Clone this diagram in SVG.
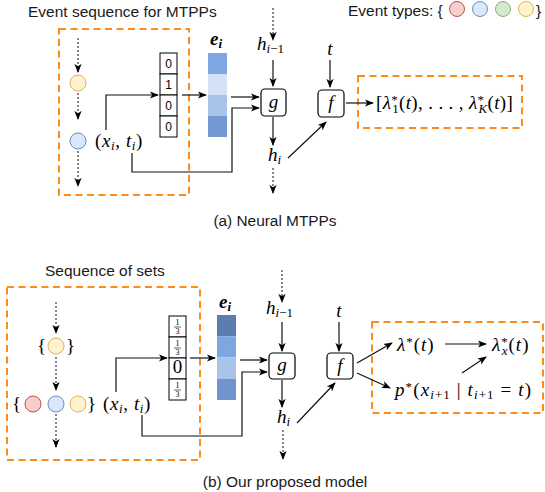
<svg xmlns="http://www.w3.org/2000/svg" width="545" height="492" viewBox="0 0 545 492">
<defs>
<style>
.sans{font-family:"Liberation Sans",Arial,sans-serif;fill:#1a1a1a}
.m{font-family:"Liberation Serif","DejaVu Serif",serif;fill:#000;font-size:19px}
.it{font-style:italic}
.sub{font-size:13px}
.bi{font-style:italic;font-weight:bold}
.grp{fill:none;stroke:#FF8C1A;stroke-width:2;stroke-dasharray:7 4.5}
.ln{fill:none;stroke:#111;stroke-width:1.2;marker-end:url(#ah)}
.dot{fill:none;stroke:#111;stroke-width:1;stroke-dasharray:2 2;marker-end:url(#ah)}
.box{fill:#fff;stroke:#000;stroke-width:1.2}
.cell{fill:#fff;stroke:#000;stroke-width:1}
.digit{font-family:"Liberation Sans",Arial,sans-serif;font-size:12px;fill:#000;text-anchor:middle}
.fr{font-family:"Liberation Serif",serif;font-size:8px;fill:#000;text-anchor:middle}
.red{fill:#F8CECC;stroke:#B85450}
.blue{fill:#DAE8FC;stroke:#6C8EBF}
.green{fill:#D5E8D4;stroke:#82B366}
.yellow{fill:#FFF2CC;stroke:#D6B656}
</style>
<marker id="ah" viewBox="0 0 10 10" refX="9" refY="5" markerWidth="9" markerHeight="9" markerUnits="userSpaceOnUse" orient="auto">
<path d="M0,1 L10,5 L0,9 L2.5,5 z" fill="#000"/>
</marker>
</defs>

<!-- titles / legend -->
<g id="legend">
<text class="sans" x="348" y="16" font-size="15.5">Event types: {</text>
<circle class="red" cx="457" cy="9" r="7.5"/>
<circle class="blue" cx="480" cy="9" r="7.5"/>
<circle class="green" cx="503" cy="9" r="7.5"/>
<circle class="yellow" cx="526" cy="9" r="7.5"/>
<text class="sans" x="536" y="16" font-size="15.5">}</text>
</g>
<text class="sans" x="28" y="17" font-size="15.5">Event sequence for MTPPs</text>
<text class="sans" x="275" y="226" font-size="15.4" text-anchor="middle">(a) Neural MTPPs</text>
<text class="sans" x="45" y="276" font-size="15.5">Sequence of sets</text>
<text class="sans" x="285" y="487" font-size="15.5" text-anchor="middle">(b) Our proposed model</text>

<!-- ============ (a) ============ -->
<g id="a-seq">
<rect class="grp" x="59" y="29" width="130" height="166"/>
<circle class="yellow" cx="78" cy="83" r="8"/>
<circle class="blue" cx="78" cy="141" r="8"/>
<text class="m" x="95" y="147" letter-spacing="0.6">(<tspan class="it">x</tspan><tspan class="sub it" dy="3">i</tspan><tspan dy="-3">, </tspan><tspan class="it">t</tspan><tspan class="sub it" dy="3">i</tspan><tspan dy="-3">)</tspan></text>
</g>
<g id="a-onehot">
<rect class="cell" x="160" y="53" width="17" height="21"/>
<rect class="cell" x="160" y="74" width="17" height="21"/>
<rect class="cell" x="160" y="95" width="17" height="21"/>
<rect class="cell" x="160" y="116" width="17" height="21"/>
<text class="digit" x="168.5" y="68">0</text>
<text class="digit" x="168.5" y="89">1</text>
<text class="digit" x="168.5" y="110">0</text>
<text class="digit" x="168.5" y="131">0</text>
</g>
<g id="a-embed">
<rect x="208" y="53" width="19" height="21" fill="#7EA6E0"/>
<rect x="208" y="74" width="19" height="21" fill="#D4E1F5"/>
<rect x="208" y="95" width="19" height="21" fill="#A9C4EB"/>
<rect x="208" y="116" width="19" height="21" fill="#7398D2"/>
<text class="m bi" x="210" y="45">e<tspan class="sub" dy="3">i</tspan></text>
</g>
<g id="a-g">
<rect class="box" x="261" y="89" width="25" height="27" rx="4"/>
<text class="m it" x="273.5" y="108" text-anchor="middle">g</text>
</g>
<g id="a-f">
<rect class="box" x="318" y="90" width="26" height="27" rx="4"/>
<text class="m it" x="331" y="109" text-anchor="middle">f</text>
</g>
<g id="a-h-prev">
<text class="m" x="257" y="50"><tspan class="it">h</tspan><tspan class="sub" dy="3"><tspan class="it">i</tspan>−1</tspan></text>
</g>
<g id="a-h">
<text class="m" x="268" y="161"><tspan class="it">h</tspan><tspan class="sub it" dy="3">i</tspan></text>
</g>
<g id="a-t">
<text class="m it" x="330" y="55" text-anchor="middle">t</text>
</g>
<g id="a-out">
<rect class="grp" x="358" y="76" width="164" height="52"/>
<text class="m" x="376" y="109" letter-spacing="0.35">[<tspan class="it">λ</tspan><tspan class="sub" dy="-5">*</tspan><tspan class="sub" dx="-6" dy="9">1</tspan><tspan dy="-4">(</tspan><tspan class="it">t</tspan>), . . . , <tspan class="it">λ</tspan><tspan class="sub" dy="-5">*</tspan><tspan class="sub it" dx="-6" dy="9">K</tspan><tspan dy="-4">(</tspan><tspan class="it">t</tspan>)]</text>
</g>

<!-- ============ (b) ============ -->
<g id="b-seq">
<rect class="grp" x="7" y="287" width="193" height="173"/>
<text class="m" x="37" y="352">{</text>
<circle class="yellow" cx="56" cy="346" r="8"/>
<text class="m" x="66" y="352">}</text>
<text class="m" x="12" y="410">{</text>
<circle class="red" cx="33" cy="404" r="8"/>
<circle class="blue" cx="56" cy="404" r="8"/>
<circle class="yellow" cx="78" cy="404" r="8"/>
<text class="m" x="87" y="410">}</text>
<text class="m" x="103" y="410" letter-spacing="0.6">(<tspan class="it">x</tspan><tspan class="sub it" dy="3">i</tspan><tspan dy="-3">, </tspan><tspan class="it">t</tspan><tspan class="sub it" dy="3">i</tspan><tspan dy="-3">)</tspan></text>
</g>
<g id="b-multihot">
<rect class="cell" x="169" y="316" width="17" height="21"/>
<rect class="cell" x="169" y="337" width="17" height="21"/>
<rect class="cell" x="169" y="358" width="17" height="21"/>
<rect class="cell" x="169" y="379" width="17" height="21"/>
<text class="fr" x="177.5" y="325">1</text><line x1="174" y1="327" x2="181" y2="327" stroke="#000" stroke-width="0.6"/><text class="fr" x="177.5" y="334">3</text>
<text class="fr" x="177.5" y="346">1</text><line x1="174" y1="348" x2="181" y2="348" stroke="#000" stroke-width="0.6"/><text class="fr" x="177.5" y="355">3</text>
<text class="m" x="177.5" y="373" text-anchor="middle" font-size="12">0</text>
<text class="fr" x="177.5" y="388">1</text><line x1="174" y1="390" x2="181" y2="390" stroke="#000" stroke-width="0.6"/><text class="fr" x="177.5" y="397">3</text>
</g>
<g id="b-embed">
<rect x="217" y="315" width="19" height="21.25" fill="#5D7DB0"/>
<rect x="217" y="336.25" width="19" height="21.25" fill="#7EA6E0"/>
<rect x="217" y="357.5" width="19" height="21.25" fill="#A9C4EB"/>
<rect x="217" y="378.75" width="19" height="21.25" fill="#6F94CE"/>
<text class="m bi" x="219" y="308">e<tspan class="sub" dy="3">i</tspan></text>
</g>
<g id="b-g">
<rect class="box" x="269" y="353" width="26" height="26" rx="4"/>
<text class="m it" x="282" y="371" text-anchor="middle">g</text>
</g>
<g id="b-f">
<rect class="box" x="327" y="353" width="26" height="26" rx="4"/>
<text class="m it" x="340" y="372" text-anchor="middle">f</text>
</g>
<g id="b-h-prev">
<text class="m" x="266" y="314"><tspan class="it">h</tspan><tspan class="sub" dy="3"><tspan class="it">i</tspan>−1</tspan></text>
</g>
<g id="b-h">
<text class="m" x="277" y="423"><tspan class="it">h</tspan><tspan class="sub it" dy="3">i</tspan></text>
</g>
<g id="b-t">
<text class="m it" x="339" y="317" text-anchor="middle">t</text>
</g>
<g id="b-out">
<rect class="grp" x="372" y="322" width="171" height="91"/>
</g>
<g id="b-lambda">
<text class="m" x="397" y="351" letter-spacing="1"><tspan class="it">λ</tspan><tspan class="sub" dy="-5">*</tspan><tspan dy="5">(</tspan><tspan class="it">t</tspan>)</text>
</g>
<g id="b-lambda-x">
<text class="m" x="492" y="351" letter-spacing="1"><tspan class="it">λ</tspan><tspan class="sub" dy="-5">*</tspan><tspan class="sub it" dx="-7" dy="9">x</tspan><tspan dy="-4">(</tspan><tspan class="it">t</tspan>)</text>
</g>
<g id="b-p">
<text class="m" x="395" y="396" letter-spacing="1.1"><tspan class="it">p</tspan><tspan class="sub" dy="-5">*</tspan><tspan dy="5">(</tspan><tspan class="it">x</tspan><tspan class="sub" dy="3"><tspan class="it">i</tspan>+1</tspan><tspan dy="-3"> | </tspan><tspan class="it">t</tspan><tspan class="sub" dy="3"><tspan class="it">i</tspan>+1</tspan><tspan dy="-3"> = </tspan><tspan class="it">t</tspan>)</text>
</g>

<!-- connectors -->
<g id="connectors">
<!-- (a) -->
<path class="dot" d="M78,38 V72"/>
<path class="dot" d="M78,93 V119"/>
<path class="dot" d="M78,151 V186"/>
<path class="ln" d="M106,130 V95 H158"/>
<path class="ln" d="M182,95 H206"/>
<path class="ln" d="M231,97 H259"/>
<path class="ln" d="M132,153 V172 H232 V108 H259"/>
<path class="dot" d="M273,8 V40"/>
<path class="ln" d="M273,60 V86"/>
<path class="ln" d="M273,117 V145"/>
<path class="dot" d="M273,168 V193"/>
<path class="ln" d="M330,60 V87"/>
<path class="ln" d="M288,158 L326,122"/>
<path class="ln" d="M346,103 H373"/>
<!-- (b) -->
<path class="dot" d="M56,302 V333"/>
<path class="dot" d="M56,357 V390"/>
<path class="dot" d="M56,414 V447"/>
<path class="ln" d="M116,392 V358 H167"/>
<path class="ln" d="M190,358 H215"/>
<path class="ln" d="M240,360 H267"/>
<path class="ln" d="M142,415 V436 H242 V372 H267"/>
<path class="dot" d="M282,270 V302"/>
<path class="ln" d="M282,322 V351"/>
<path class="ln" d="M282,380 V407"/>
<path class="dot" d="M283,430 V459"/>
<path class="ln" d="M339,322 V351"/>
<path class="ln" d="M297,423 L335,383"/>
<path class="ln" d="M357,363 L392,343"/>
<path class="ln" d="M357,373 L390,388"/>
<path class="ln" d="M445,344 H486"/>
<path class="ln" d="M462,373 L486,357"/>
</g>
</svg>
